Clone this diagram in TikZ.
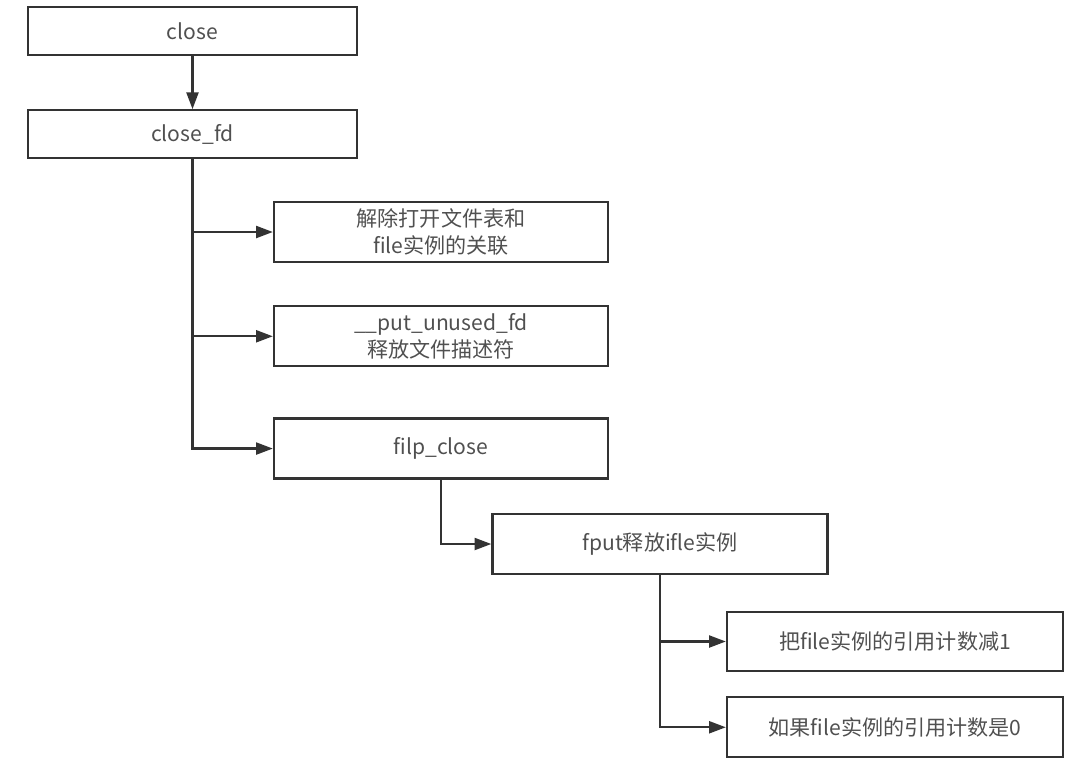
\documentclass[tikz,border=0pt]{standalone}
\usepackage{fontspec}
\setmainfont{Noto Sans CJK SC}
\usepackage{xcolor}
\usetikzlibrary{arrows.meta}
\usetikzlibrary{positioning}

\definecolor{boxline}{HTML}{333333}
\definecolor{boxtext}{HTML}{505050}

\begin{document}
\begin{tikzpicture}[x=0.025cm, y=-0.025cm, node distance=1.325cm, line width=1.6pt,
  >={Triangle[length=0.42cm, width=0.3cm]}]
\tikzstyle{callbox} = [rectangle, draw = boxline, text = boxtext, align = center,
  minimum width = 8.35cm, minimum height = 1.5cm, inner sep = 2pt,
  font = \fontsize{15}{19}\selectfont]
\tikzstyle{topbox} = [callbox, minimum width = 8.225cm, minimum height = 1.2cm]
\useasboundingbox (0,0) rectangle (1080,771);
\node (close) [topbox] at (192.5,31) {close};
\node (closefd) [topbox, below = of close] {close\_fd};
\node (unlink) [callbox] at (441,232) {解除打开文件表和\\file实例的关联};
\node (putfd) [callbox, below = 1.05cm of unlink] {\_\_put\_unused\_fd\\释放文件描述符};
\node (filpclose) [callbox, below = 1.25cm of putfd] {filp\_close};
\node (fput) [callbox, minimum width = 8.375cm] at (660,544) {fput释放ifle实例};
\node (refdec) [callbox, minimum width = 8.4cm, minimum height = 1.475cm] at (895,641.5) {把file实例的引用计数减1};
\node (refzero) [callbox, minimum width = 8.4cm, below = 0.6cm of refdec] {如果file实例的引用计数是0};
\draw [->, boxline] (close) -- (closefd);
\draw [->, boxline] (closefd.south) |- (unlink.west);
\draw [->, boxline] (closefd.south) |- (putfd.west);
\draw [->, boxline] (closefd.south) |- (filpclose.west);
\draw [->, boxline] (filpclose.south) |- (fput.west);
\draw [->, boxline] (fput.south) |- (refdec.west);
\draw [->, boxline] (fput.south) |- (refzero.west);
\end{tikzpicture}
\end{document}
